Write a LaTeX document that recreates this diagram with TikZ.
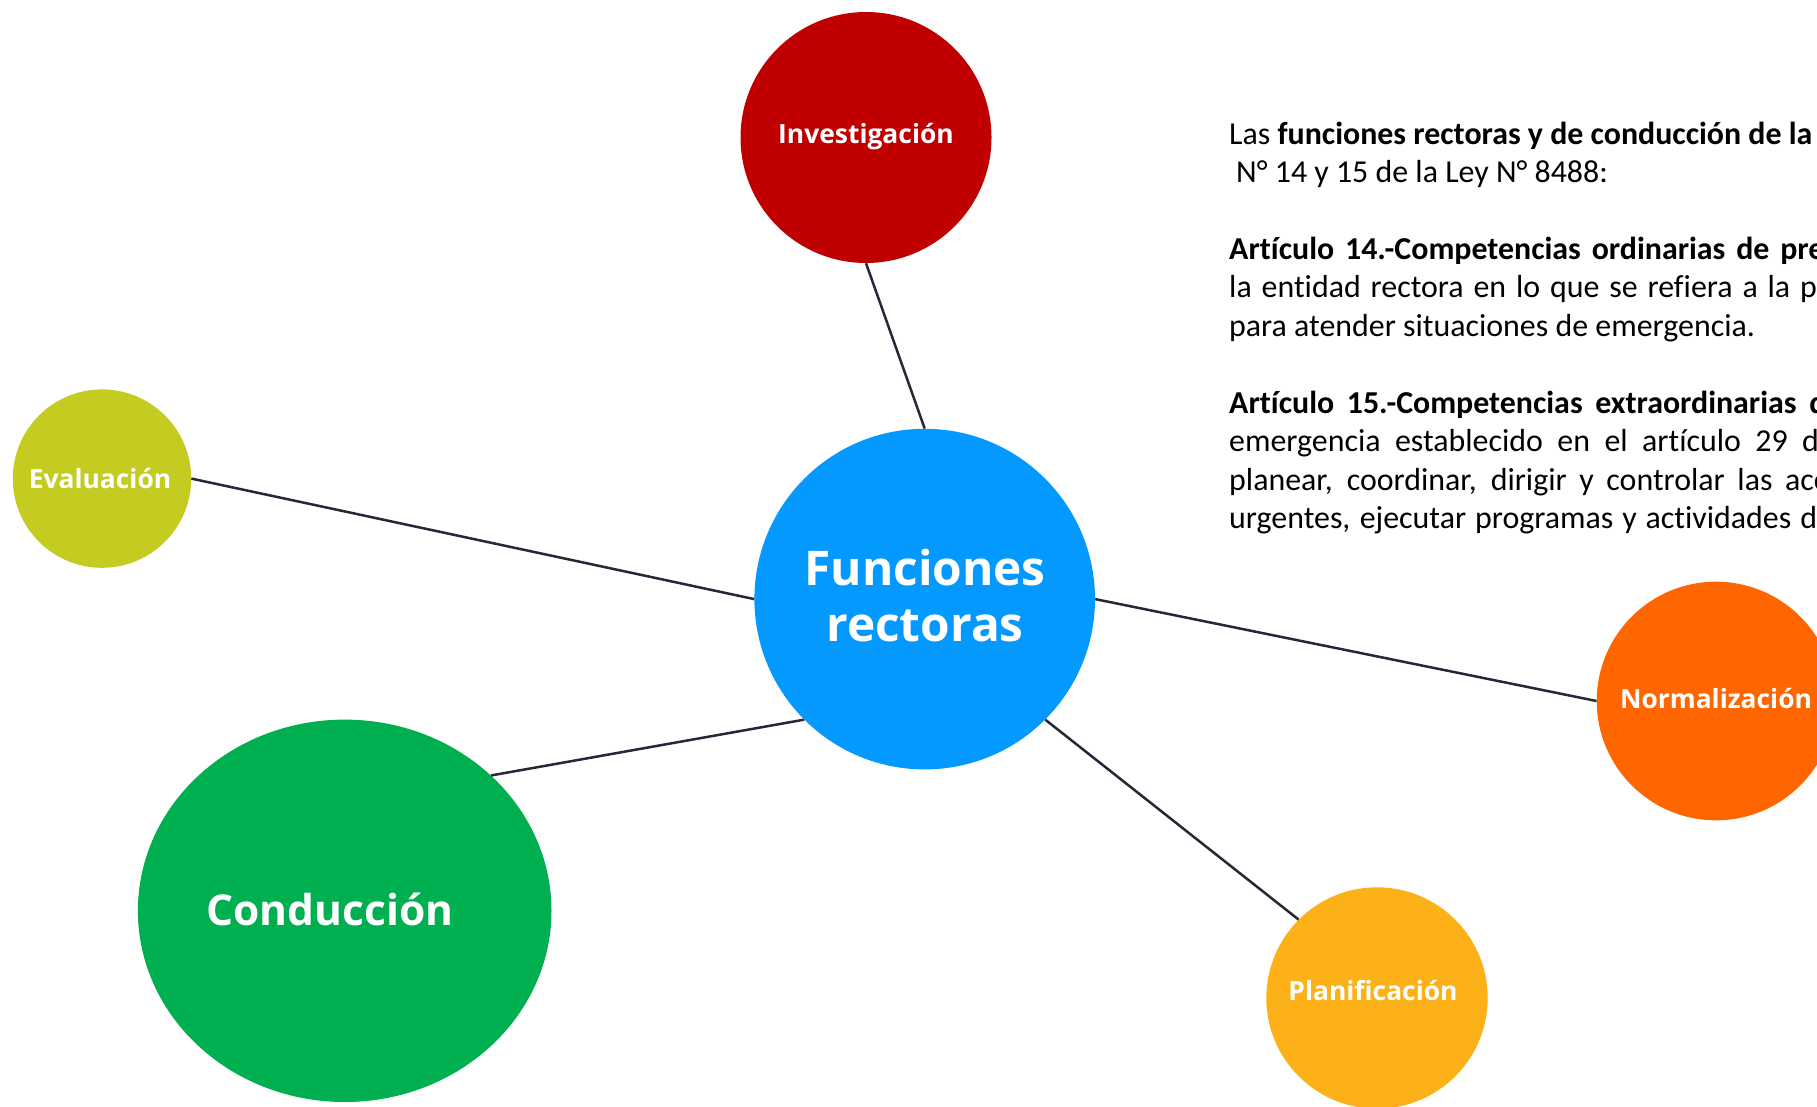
\documentclass[tikz,border=0pt]{standalone}
\usepackage{fontspec}
\setmainfont{Carlito}[Ligatures=NoCommon]
\newfontfamily\osans{Open Sans}
\usetikzlibrary{shapes.geometric}
\definecolor{cInv}{HTML}{C00000}
\definecolor{cFun}{HTML}{0399FE}
\definecolor{cEva}{HTML}{C4CC22}
\definecolor{cCon}{HTML}{00B050}
\definecolor{cNor}{HTML}{FF6600}
\definecolor{cPla}{HTML}{FBB117}
\definecolor{cLine}{HTML}{232936}
\newcommand\jline[3]{\setbox0\hbox{#3}\hbox to \dimexpr#1pt+\wd0\relax{#2 #3}}
\begin{document}
\begin{tikzpicture}[x=1pt,y=-1pt,
  bub/.style={circle,inner sep=0pt,draw=none},
  lbl/.style={text=white,font=\osans\bfseries\fontsize{26.4}{30}\selectfont,anchor=base,inner sep=0pt},
  biglbl/.style={lbl,font=\osans\bfseries\fontsize{42.5}{50}\selectfont},
  hugelbl/.style={lbl,font=\osans\bfseries\fontsize{47.8}{55}\selectfont},
  para/.style={anchor=base west,inner sep=0pt,text=black,font=\fontsize{31.9}{38.47}\selectfont},
  bpara/.style={para,font=\bfseries\fontsize{31.9}{38.47}\selectfont},
  link/.style={draw=cLine,line width=2.5pt}]
\useasboundingbox (0,0) rectangle (1817,1107);
\fill[white] (0,0) rectangle (1817,1107);
\begin{scope}
\clip (0,0) rectangle (1817,1107);
% bubbles
\node[bub,fill=cFun,minimum size=340.6pt] (fun) at (924.7,599.1) {};
\node[bub,fill=cInv,minimum size=251pt] (inv) at (866,137.5) {};
\node[bub,fill=cEva,minimum size=178.4pt] (eva) at (102,478.6) {};
\node[ellipse,inner sep=0pt,draw=none,fill=cCon,minimum width=413.6pt,minimum height=382.4pt] (con) at (344.7,910.8) {};
\node[bub,fill=cNor,minimum size=238.6pt] (nor) at (1716,701) {};
\node[bub,fill=cPla,minimum size=221.4pt] (pla) at (1377,998) {};
% connectors
\draw[link] (inv.south) -- (fun.north);
\draw[link] (eva.east) -- (fun.west);
\draw[link] (fun.east) -- (nor.west);
\draw[link] (con.north east) -- (fun.south west);
\draw[link] (fun.south east) -- (pla.north west);
% labels
\node[hugelbl] (tfun1) at (925,585) {Funciones};
\node[hugelbl] (tfun2) at (925,641) {rectoras};
\node[lbl] (tinv) at (866,143.5) {Investigación};
\node[lbl] (teva) at (100,488) {Evaluación};
\node[lbl] (tnor) at (1716,708) {Normalización};
\node[lbl] (tpla) at (1373,1000) {Planificación};
\node[biglbl] (tcon) at (330,925) {Conducción};
% paragraph
\node[para] (p0) at (1229,144.1) {Las \textbf{funciones rectoras y de conducción de la}};
\node[para] (p1) at (1236,182.6) {N° 14 y 15 de la Ley N° 8488:};
\node[bpara] (p3) at (1229,259.5) {\jline{551}{Artículo 14.-Competencias ordinarias de}{pre}};
\node[para] (p4) at (1229,298.0) {\jline{571}{la entidad rectora en lo que se refiera a la}{p}};
\node[para] (p5) at (1229,336.5) {para atender situaciones de emergencia.};
\node[bpara] (p7) at (1229,413.4) {\jline{580}{Artículo 15.-Competencias extraordinarias}{d}};
\node[para] (p8) at (1229,451.9) {\jline{573}{emergencia establecido en el artículo 29}{d}};
\node[para] (p9) at (1229,490.3) {\jline{556}{planear, coordinar, dirigir y controlar las}{acc}};
\node[para] (p10) at (1229,528.8) {\jline{571}{urgentes, ejecutar programas y actividades}{de}};
\end{scope}
\end{tikzpicture}
\end{document}
